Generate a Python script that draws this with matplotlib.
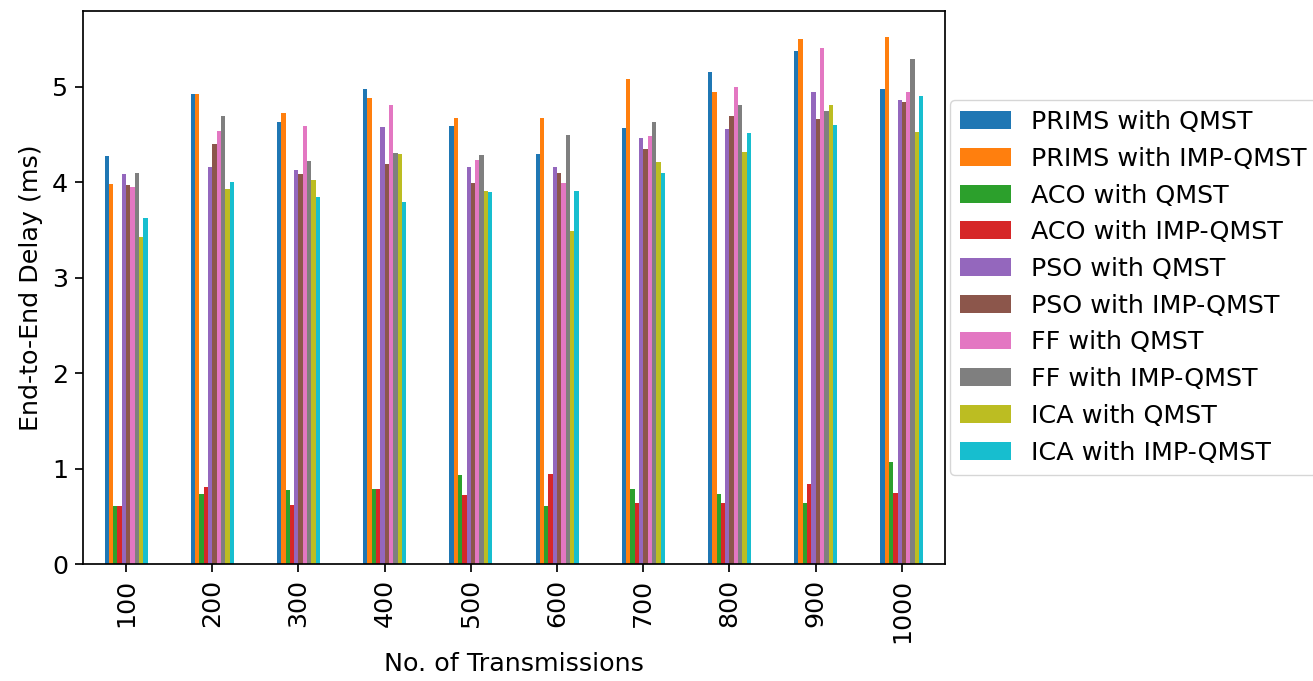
import pandas as pd
import matplotlib
matplotlib.use("Agg")
import matplotlib.pyplot as plt

# Data
transmissions = ['100', '200', '300', '400', '500', '600', '700', '800', '900', '1000']

prims_qmst     = [4.27, 4.92, 4.63, 4.98, 4.59, 4.30, 4.57, 5.15, 5.37, 4.98]
prims_imp_qmst = [3.98, 4.92, 4.72, 4.88, 4.67, 4.67, 5.08, 4.94, 5.50, 5.52]
aco_qmst       = [0.61, 0.73, 0.77, 0.79, 0.93, 0.61, 0.79, 0.73, 0.64, 1.07]
aco_imp_qmst   = [0.61, 0.81, 0.62, 0.79, 0.72, 0.94, 0.64, 0.64, 0.84, 0.74]
pso_qmst       = [4.09, 4.16, 4.13, 4.58, 4.16, 4.16, 4.46, 4.56, 4.94, 4.86]
pso_imp_qmst   = [3.97, 4.40, 4.09, 4.19, 3.99, 4.10, 4.35, 4.69, 4.66, 4.84]
ff_qmst        = [3.95, 4.54, 4.59, 4.81, 4.23, 3.99, 4.48, 5.00, 5.41, 4.94]
ff_imp_qmst    = [4.10, 4.69, 4.22, 4.31, 4.28, 4.49, 4.63, 4.81, 4.75, 5.29]
ica_qmst       = [3.43, 3.93, 4.02, 4.29, 3.91, 3.49, 4.21, 4.32, 4.81, 4.53]
ica_imp_qmst   = [3.62, 4.00, 3.84, 3.79, 3.90, 3.91, 4.10, 4.51, 4.60, 4.90]

df = pd.DataFrame({
    'PRIMS with QMST': prims_qmst,
    'PRIMS with IMP-QMST': prims_imp_qmst,
    'ACO with QMST': aco_qmst,
    'ACO with IMP-QMST': aco_imp_qmst,
    'PSO with QMST': pso_qmst,
    'PSO with IMP-QMST': pso_imp_qmst,
    'FF with QMST': ff_qmst,
    'FF with IMP-QMST': ff_imp_qmst,
    'ICA with QMST': ica_qmst,
    'ICA with IMP-QMST': ica_imp_qmst,
}, index=transmissions)

# original looks like a default figure blown up
S = 1.55
plt.rcParams.update({
    'font.size': 18.3,
    'axes.linewidth': 0.8 * S,
    'xtick.major.size': 3.5 * S,
    'ytick.major.size': 3.5 * S,
    'xtick.major.width': 0.8 * S,
    'ytick.major.width': 0.8 * S,
    'xtick.major.pad': 3.5 * S,
    'ytick.major.pad': 3.5 * S,
    'axes.labelpad': 4.0 * S,
})

fig = plt.figure(figsize=(13.13, 6.81), dpi=100)
ax = fig.add_axes([0.0632, 0.1718, 0.6565, 0.8125])

df.plot(kind='bar', ax=ax, width=0.5, legend=False)
ax.set_xlabel('No. of Transmissions')
ax.set_ylabel('End-to-End Delay (ms)')

ax.legend(loc='center left', bbox_to_anchor=(1.0, 0.5), borderaxespad=0.2)

fig.savefig('out.png', dpi=100, facecolor='white')
